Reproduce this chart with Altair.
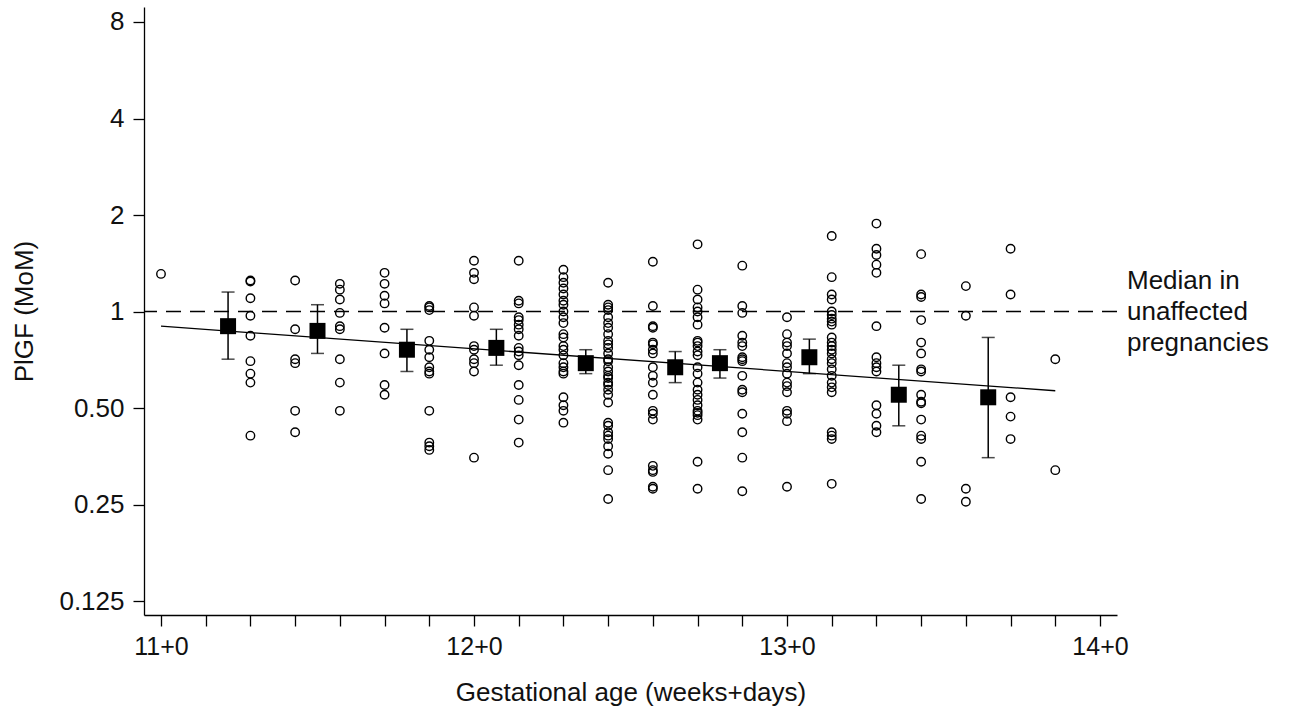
import altair as alt
import pandas as pd

# ---- data (PlGF MoM by gestational day) ----
col_labels = ["11+0", "11+2", "11+3", "11+4", "11+5", "11+6",
              "12+0", "12+1", "12+2", "12+3", "12+4", "12+5", "12+6",
              "13+0", "13+1", "13+2", "13+3", "13+4", "13+5", "13+6"]

v_11_0 = [1.31]
v_11_2 = [1.25, 1.24, 1.10, 0.97, 0.84, 0.70, 0.64, 0.60, 0.41]
v_11_3 = [1.25, 0.88, 0.71, 0.69, 0.49, 0.42]
v_11_4 = [1.22, 1.17, 1.09, 0.99, 0.90, 0.88, 0.71, 0.60, 0.49]
v_11_5 = [1.32, 1.22, 1.12, 1.06, 0.89, 0.74, 0.59, 0.55]
v_11_6 = [1.04, 1.03, 1.01, 0.81, 0.76, 0.72, 0.67, 0.65, 0.64, 0.49, 0.39, 0.38, 0.37]
v_12_0 = [1.44, 1.32, 1.26, 1.03, 0.97, 0.78, 0.76, 0.71, 0.69, 0.65, 0.35]
v_12_1 = [1.44, 1.08, 1.06, 0.96, 0.94, 0.91, 0.88, 0.84, 0.77, 0.75, 0.73, 0.68,
          0.59, 0.53, 0.46, 0.39]
v_12_2 = [1.35, 1.28, 1.23, 1.18, 1.13, 1.08, 1.05, 1.00, 0.96, 0.92, 0.85, 0.83,
          0.78, 0.76, 0.73, 0.69, 0.67, 0.65, 0.64, 0.54, 0.51, 0.49, 0.45]
v_12_3 = [1.23, 1.05, 1.03, 1.01, 0.96, 0.92, 0.89, 0.85, 0.81, 0.79, 0.77, 0.74,
          0.71, 0.70, 0.67, 0.65, 0.63, 0.62, 0.60, 0.59, 0.57, 0.55, 0.52, 0.45,
          0.44, 0.42, 0.41, 0.40, 0.38, 0.36, 0.32, 0.26]
v_12_4 = [1.43, 1.04, 0.90, 0.89, 0.80, 0.79, 0.76, 0.74, 0.67, 0.63, 0.60, 0.55,
          0.49, 0.48, 0.46, 0.33, 0.32, 0.316, 0.284, 0.28]
v_12_5 = [1.62, 1.17, 1.09, 1.03, 1.00, 0.96, 0.91, 0.81, 0.80, 0.78, 0.75, 0.73,
          0.67, 0.64, 0.60, 0.57, 0.55, 0.53, 0.51, 0.49, 0.483, 0.475, 0.46, 0.34, 0.28]
v_12_6 = [1.39, 1.04, 0.99, 0.84, 0.80, 0.78, 0.72, 0.71, 0.70, 0.63, 0.57, 0.56,
          0.48, 0.42, 0.35, 0.275]
v_13_0 = [0.96, 0.85, 0.80, 0.78, 0.74, 0.69, 0.67, 0.64, 0.60, 0.585, 0.56, 0.49,
          0.48, 0.455, 0.284]
v_13_1 = [1.72, 1.28, 1.13, 1.09, 1.00, 0.975, 0.95, 0.93, 0.91, 0.83, 0.80, 0.78,
          0.76, 0.74, 0.71, 0.69, 0.66, 0.63, 0.60, 0.58, 0.56, 0.42, 0.41, 0.40, 0.29]
v_13_2 = [1.88, 1.57, 1.50, 1.40, 1.32, 0.90, 0.72, 0.69, 0.67, 0.65, 0.51, 0.48,
          0.44, 0.42]
v_13_3 = [1.51, 1.13, 1.11, 0.94, 0.80, 0.74, 0.66, 0.65, 0.55, 0.523, 0.517, 0.46,
          0.41, 0.40, 0.34, 0.26]
v_13_4 = [1.20, 0.97, 0.28, 0.255]
v_13_5 = [1.57, 1.13, 0.54, 0.47, 0.40]
v_13_6 = [0.71, 0.32]

columns = [v_11_0, v_11_2, v_11_3, v_11_4, v_11_5, v_11_6,
           v_12_0, v_12_1, v_12_2, v_12_3, v_12_4, v_12_5, v_12_6,
           v_13_0, v_13_1, v_13_2, v_13_3, v_13_4, v_13_5, v_13_6]

# medians with 95% CI (positions in gestational days)
median_day = [78.5, 80.5, 82.5, 84.5, 86.5, 88.5, 89.5, 91.5, 93.5, 95.5]
median_mom = [0.90, 0.87, 0.76, 0.77, 0.69, 0.67, 0.69, 0.72, 0.55, 0.54]
ci_high = [1.15, 1.05, 0.88, 0.88, 0.76, 0.75, 0.76, 0.82, 0.68, 0.83]
ci_low = [0.71, 0.74, 0.65, 0.68, 0.64, 0.60, 0.62, 0.64, 0.44, 0.35]

# regression line
reg_day = [77, 97]
reg_mom = [0.90, 0.566]

y_ticks = [0.125, 0.25, 0.5, 1, 2, 4, 8]
x_ticks = list(range(77, 99))
note_lines = ["Median in", "unaffected", "pregnancies"]

# ---- build tables ----
rows = []
for lab, vals in zip(col_labels, columns):
    w, d = lab.split("+")
    day = int(w) * 7 + int(d)
    for v in vals:
        rows.append({"day": day, "mom": v})
pts = pd.DataFrame(rows)
med = pd.DataFrame({"day": median_day, "mom": median_mom, "lo": ci_low, "hi": ci_high})
reg = pd.DataFrame({"day": reg_day, "mom": reg_mom})

FONT = "Liberation Sans, Arial, sans-serif"
W, H = 973, 608

xscale = alt.Scale(domain=[76.62, 98.38], nice=False, zero=False)
yscale = alt.Scale(type="log", base=2, domain=[0.11305, 8.91], nice=False)

xaxis = alt.Axis(values=x_ticks, labelExpr="datum.value % 7 == 0 ? floor(datum.value / 7) + '+0' : ''",
                 title="Gestational age (weeks+days)", grid=False, tickSize=11,
                 labelFontSize=25, labelPadding=8, labelFlush=False, labelOverlap=False,
                 titleFontSize=26, titleFontWeight="normal", titleY=77, titleBaseline="middle")
yaxis = alt.Axis(values=y_ticks, labelExpr="datum.value == 0.5 ? '0.50' : toString(datum.value)",
                 title="PlGF (MoM)", grid=False, tickSize=11, labelFontSize=26,
                 labelPadding=9, labelFlush=False, labelOverlap=False,
                 titleFontSize=26, titleFontWeight="normal", titleX=-120, titleY=304,
                 titleAngle=-90, titleAlign="center", titleBaseline="middle")

x_enc = alt.X("day:Q", scale=xscale, axis=xaxis)
y_enc = alt.Y("mom:Q", scale=yscale, axis=yaxis)

ref = alt.Chart(pd.DataFrame({"mom": [1.0]})).mark_rule(
    color="black", strokeWidth=1.5, strokeDash=[15, 9]
).encode(y=alt.Y("mom:Q", scale=yscale))

note = alt.Chart(pd.DataFrame({"mom": [1.0]})).mark_text(
    align="left", baseline="middle", fontSize=26, font=FONT, color="#111",
    lineHeight=31, dy=-31, text=note_lines
).encode(x=alt.value(W + 10), y=alt.Y("mom:Q", scale=yscale))

line = alt.Chart(reg).mark_line(color="black", strokeWidth=1.3).encode(
    x=alt.X("day:Q", scale=xscale), y=alt.Y("mom:Q", scale=yscale))

points = alt.Chart(pts).mark_point(
    shape="circle", size=72, filled=False, color="black", strokeWidth=1.4, opacity=1
).encode(x=x_enc, y=y_enc)

bars = alt.Chart(med).mark_rule(color="black", strokeWidth=1.5).encode(
    x=alt.X("day:Q", scale=xscale), y=alt.Y("lo:Q", scale=yscale), y2="hi:Q")
cap_hi = alt.Chart(med).mark_tick(color="black", orient="horizontal", size=13, thickness=1.5).encode(
    x=alt.X("day:Q", scale=xscale), y=alt.Y("hi:Q", scale=yscale))
cap_lo = alt.Chart(med).mark_tick(color="black", orient="horizontal", size=13, thickness=1.5).encode(
    x=alt.X("day:Q", scale=xscale), y=alt.Y("lo:Q", scale=yscale))
squares = alt.Chart(med).mark_point(
    shape="square", size=256, filled=True, color="black", opacity=1
).encode(x=alt.X("day:Q", scale=xscale), y=alt.Y("mom:Q", scale=yscale))

chart = alt.layer(points, ref, line, bars, cap_hi, cap_lo, squares, note).properties(
    width=W, height=H, background="white",
    autosize=alt.AutoSizeParams(type="none"),
    padding={"left": 144, "top": 7, "right": 172, "bottom": 95},
).configure_axis(
    domainColor="black", tickColor="black", labelColor="#111", titleColor="#111",
    labelFont=FONT, titleFont=FONT, domainWidth=1.3, tickWidth=1.3
).configure_view(stroke=None)

chart.save("out.html", embed_options={"renderer": "svg", "actions": False})
